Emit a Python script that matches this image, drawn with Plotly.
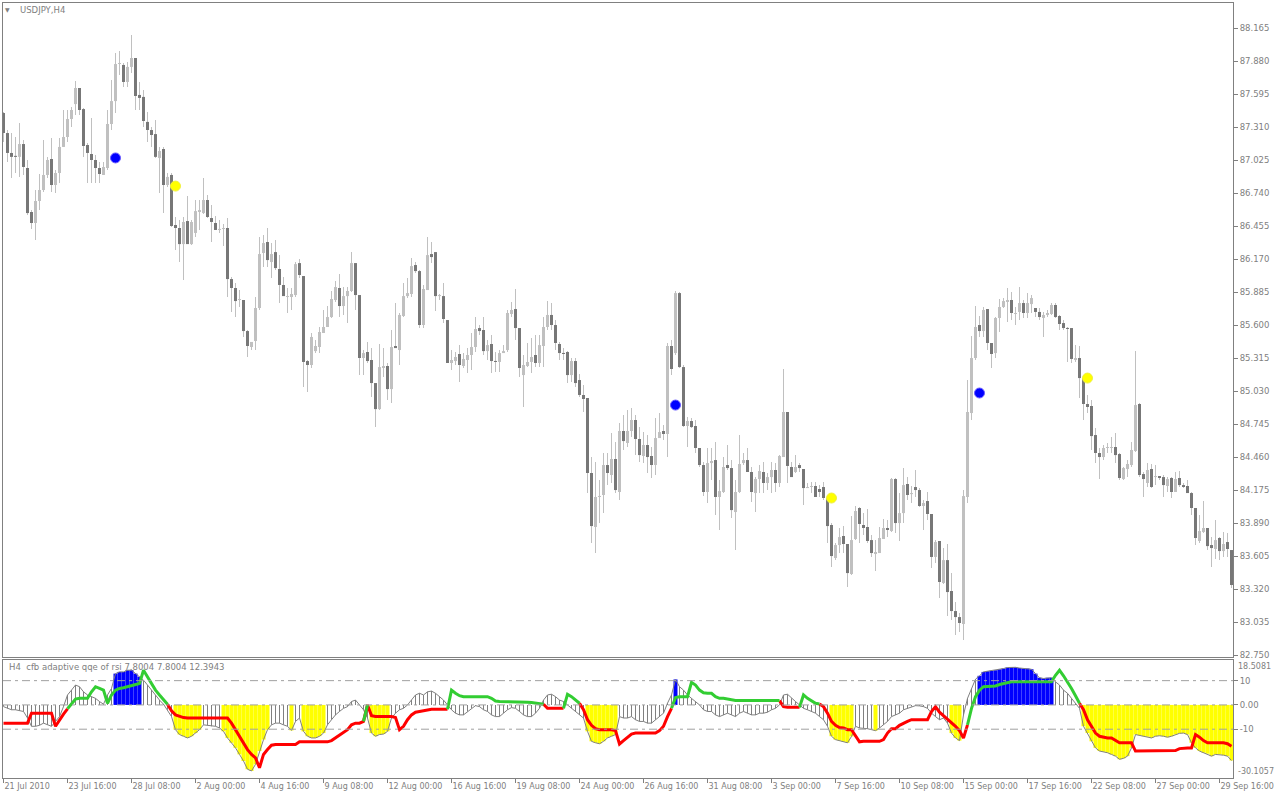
import plotly.graph_objects as go

# ---------------- price data (USDJPY H4) ----------------
OPEN = [
87.431,87.258,87.086,87.060,87.052,87.163,86.956,86.576,86.481,86.671,
86.766,86.896,87.034,86.809,86.913,87.138,87.224,87.379,87.508,87.647,
87.465,87.155,87.077,87.025,86.956,86.896,86.956,87.336,87.534,87.854,
87.846,87.699,87.829,87.906,87.587,87.570,87.354,87.284,87.249,87.043,
87.120,86.809,86.896,86.464,86.438,86.299,86.498,86.299,86.395,86.576,
86.567,86.680,86.524,86.481,86.421,86.429,86.438,85.997,85.920,85.816,
85.816,85.548,85.410,85.462,85.747,86.222,86.317,86.144,86.230,86.084,
85.946,85.842,85.842,85.859,86.135,86.023,85.289,85.255,85.375,85.410,
85.531,85.583,85.669,85.816,85.920,85.764,85.850,85.894,86.135,85.859,
85.315,85.367,85.298,85.099,84.874,85.229,85.246,85.047,85.419,85.384,
85.678,85.850,85.868,86.118,86.066,85.600,85.902,86.213,86.230,85.850,
85.850,85.643,85.272,85.289,85.350,85.246,85.298,85.341,85.410,85.574,
85.557,85.375,85.436,85.289,85.281,85.358,85.384,85.695,85.738,85.574,
85.168,85.246,85.281,85.341,85.272,85.419,85.583,85.687,85.600,85.436,
85.358,85.367,85.168,85.289,85.125,84.996,84.970,84.322,83.856,84.115,
84.132,84.391,84.305,84.443,84.158,84.685,84.581,84.685,84.780,84.616,
84.469,84.564,84.469,84.391,84.624,84.685,84.659,85.419,85.358,85.876,
85.237,84.728,84.771,84.728,84.538,84.391,84.158,84.408,84.434,84.115,
84.158,84.391,84.365,83.985,84.158,84.408,84.434,84.331,84.149,84.270,
84.331,84.236,84.287,84.348,84.236,84.460,84.849,84.374,84.331,84.391,
84.357,84.192,84.201,84.210,84.184,84.201,84.106,83.873,83.588,83.700,
83.778,83.709,83.450,83.752,84.020,83.873,83.856,83.743,83.623,83.631,
83.752,83.847,83.821,84.270,83.890,83.976,84.227,84.140,84.201,84.175,
84.037,84.080,83.968,83.597,83.735,83.372,83.570,83.303,83.130,83.078,
83.018,84.115,84.840,85.315,85.600,85.548,85.738,85.445,85.358,85.661,
85.756,85.799,85.816,85.695,85.713,85.790,85.704,85.781,85.747,85.713,
85.661,85.687,85.695,85.773,85.678,85.617,85.574,85.574,85.298,85.315,
85.142,84.918,84.901,84.650,84.495,84.460,84.538,84.538,84.547,84.486,
84.270,84.357,84.391,84.512,84.918,84.313,84.236,84.357,84.287,84.296,
84.287,84.210,84.279,84.158,84.279,84.218,84.210,84.149,84.020,83.735,
83.813,83.847,83.700,83.666,83.761,83.648,83.726,83.657]

HIGH = [
87.440,87.284,87.258,87.224,87.345,87.198,87.025,86.593,86.766,86.904,
87.198,87.052,87.215,86.939,87.215,87.457,87.457,87.483,87.707,87.647,
87.474,87.172,87.388,87.069,87.008,87.008,87.457,87.716,87.949,87.966,
87.863,87.872,88.105,87.906,87.699,87.630,87.440,87.311,87.371,87.138,
87.138,86.913,86.913,86.533,86.507,86.533,86.714,86.507,86.680,86.680,
86.870,86.723,86.637,86.541,86.507,86.472,86.524,86.015,85.963,85.902,
85.816,85.557,85.454,85.842,86.360,86.377,86.438,86.308,86.334,86.204,
86.015,85.920,85.920,86.144,86.170,86.023,85.298,85.531,85.471,85.583,
85.730,85.764,85.894,85.980,86.041,85.928,85.928,86.230,86.135,85.859,
85.384,85.454,85.401,85.099,85.436,85.401,85.272,85.557,85.790,85.704,
85.963,86.006,86.178,86.144,86.075,85.946,86.360,86.317,86.230,85.868,
85.963,85.643,85.384,85.367,85.427,85.358,85.401,85.531,85.669,85.600,
85.669,85.471,85.514,85.367,85.384,85.427,85.730,85.799,85.911,85.574,
85.341,85.445,85.488,85.514,85.514,85.669,85.807,85.790,85.643,85.454,
85.401,85.375,85.315,85.315,85.177,85.082,84.970,84.460,84.417,84.261,
84.495,84.495,84.667,84.590,84.754,84.823,84.866,84.883,84.823,84.719,
84.676,84.650,84.547,84.797,84.840,84.736,85.445,85.471,85.894,85.885,
85.255,84.806,84.797,84.780,84.538,84.417,84.538,84.538,84.590,84.261,
84.460,84.564,84.434,84.261,84.650,84.495,84.538,84.374,84.287,84.391,
84.417,84.322,84.417,84.408,84.477,85.220,84.849,84.417,84.477,84.408,
84.357,84.236,84.244,84.244,84.218,84.244,84.115,83.890,83.717,83.847,
83.864,83.709,83.951,84.037,84.028,83.976,84.011,83.787,83.743,83.856,
83.925,83.916,84.279,84.279,84.149,84.365,84.287,84.210,84.348,84.192,
84.089,84.158,83.968,83.743,83.735,83.674,83.709,83.458,83.208,83.113,
84.175,85.125,85.505,85.764,85.678,85.756,85.738,85.445,85.669,85.825,
85.833,85.920,85.885,85.756,85.928,85.816,85.876,85.859,85.747,85.747,
85.713,85.730,85.790,85.790,85.687,85.643,85.583,85.574,85.427,85.419,
85.151,84.996,84.952,84.711,84.538,84.564,84.581,84.633,84.667,84.495,
84.374,84.434,84.590,85.375,84.926,84.331,84.408,84.400,84.391,84.296,
84.305,84.287,84.287,84.331,84.339,84.236,84.261,84.158,84.020,83.959,
84.080,83.847,83.769,83.916,83.769,83.813,83.804,83.657]

LOW = [
87.181,87.008,86.870,86.913,86.879,86.896,86.550,86.429,86.334,86.593,
86.749,86.870,86.749,86.740,86.826,87.138,87.181,87.311,87.414,87.414,
87.052,86.826,86.826,86.826,86.826,86.896,86.939,87.284,87.431,87.759,
87.656,87.656,87.776,87.457,87.457,87.311,87.181,87.138,87.043,86.740,
86.567,86.792,86.447,86.248,86.144,85.989,86.299,86.291,86.361,86.421,
86.558,86.524,86.317,86.421,86.395,86.282,85.842,85.713,85.670,85.756,
85.497,85.324,85.384,85.384,85.730,86.101,86.101,86.006,86.075,85.790,
85.850,85.704,85.730,85.842,86.006,85.065,85.022,85.229,85.358,85.358,
85.531,85.583,85.661,85.799,85.669,85.687,85.617,85.885,85.730,85.168,
85.168,85.272,84.978,84.719,84.866,85.151,84.952,84.926,85.401,85.255,
85.669,85.833,85.842,86.049,85.574,85.574,85.902,86.135,85.721,85.816,
85.617,85.272,85.211,85.255,85.108,85.229,85.186,85.211,85.367,85.514,
85.341,85.298,85.186,85.194,85.194,85.358,85.367,85.669,85.471,85.151,
84.892,85.237,85.186,85.237,85.237,85.237,85.557,85.557,85.384,85.298,
85.298,85.099,85.108,85.065,84.978,84.849,84.149,83.717,83.631,83.890,
83.976,84.218,84.235,84.149,84.089,84.521,84.547,84.633,84.477,84.417,
84.408,84.322,84.279,84.305,84.624,84.607,84.460,85.168,85.341,85.229,
84.719,84.547,84.711,84.495,84.374,84.123,84.063,84.261,83.959,83.830,
84.149,84.348,83.933,83.657,84.149,84.391,84.331,84.071,83.985,84.149,
84.149,84.175,84.149,84.158,84.201,84.460,84.236,84.287,84.322,84.331,
84.046,84.192,84.149,84.115,84.115,84.089,83.717,83.510,83.570,83.631,
83.631,83.337,83.441,83.743,83.717,83.787,83.717,83.597,83.476,83.631,
83.752,83.769,83.813,83.804,83.735,83.890,84.089,84.063,84.115,84.028,
83.830,83.916,83.502,83.545,83.242,83.363,83.087,83.052,82.923,82.949,
82.880,84.063,84.780,85.298,85.497,85.497,85.384,85.229,85.315,85.540,
85.747,85.626,85.643,85.600,85.643,85.661,85.661,85.704,85.669,85.643,
85.497,85.669,85.687,85.661,85.557,85.557,85.281,85.272,85.281,84.970,
84.780,84.840,84.521,84.408,84.270,84.434,84.495,84.495,84.408,84.261,
84.261,84.287,84.374,84.503,84.287,84.115,84.201,84.192,84.218,84.261,
84.115,84.158,84.106,84.158,84.201,84.192,84.149,83.959,83.700,83.717,
83.804,83.657,83.510,83.579,83.570,83.597,83.597,83.329]

CLOSE = [
87.258,87.086,87.052,87.052,87.163,86.965,86.567,86.481,86.671,86.766,
86.896,87.025,86.809,86.913,87.138,87.224,87.379,87.457,87.647,87.457,
87.146,87.086,87.025,86.956,86.904,86.965,87.336,87.534,87.854,87.863,
87.699,87.829,87.906,87.578,87.561,87.362,87.284,87.241,87.052,87.103,
86.809,86.879,86.455,86.438,86.299,86.490,86.299,86.490,86.584,86.593,
86.680,86.533,86.490,86.421,86.429,86.438,85.997,85.920,85.807,85.816,
85.548,85.419,85.454,85.747,86.213,86.308,86.161,86.213,86.092,85.946,
85.850,85.850,85.868,86.126,86.032,85.281,85.255,85.497,85.419,85.540,
85.583,85.669,85.825,85.928,85.764,85.850,85.894,86.135,85.859,85.315,
85.358,85.289,85.099,84.874,85.237,85.246,85.047,85.410,85.401,85.687,
85.850,85.876,86.109,86.066,85.600,85.911,86.204,86.187,85.850,85.850,
85.652,85.272,85.298,85.324,85.255,85.307,85.341,85.410,85.566,85.548,
85.375,85.427,85.289,85.281,85.358,85.375,85.704,85.730,85.574,85.229,
85.255,85.281,85.324,85.272,85.427,85.583,85.687,85.600,85.445,85.358,
85.350,85.168,85.289,85.099,84.996,84.961,84.322,83.864,84.115,84.123,
84.391,84.322,84.443,84.175,84.685,84.598,84.685,84.780,84.616,84.477,
84.564,84.460,84.391,84.624,84.676,84.659,85.419,85.220,85.876,85.237,
84.728,84.771,84.719,84.538,84.391,84.158,84.408,84.426,84.115,84.166,
84.374,84.365,84.002,84.158,84.400,84.434,84.331,84.158,84.270,84.339,
84.236,84.287,84.348,84.236,84.469,84.849,84.383,84.287,84.374,84.365,
84.192,84.201,84.210,84.115,84.158,84.106,83.864,83.605,83.700,83.769,
83.709,83.458,83.743,83.994,83.882,83.847,83.735,83.631,83.640,83.761,
83.847,83.830,84.270,83.890,83.976,84.218,84.132,84.140,84.175,84.037,
84.063,83.968,83.597,83.726,83.381,83.570,83.294,83.130,83.078,83.027,
84.123,84.849,85.315,85.583,85.548,85.730,85.445,85.350,85.661,85.756,
85.807,85.816,85.704,85.704,85.790,85.704,85.790,85.833,85.713,85.669,
85.687,85.704,85.773,85.669,85.609,85.574,85.566,85.307,85.315,85.142,
84.918,84.892,84.641,84.495,84.460,84.538,84.547,84.547,84.477,84.279,
84.365,84.400,84.521,84.909,84.305,84.270,84.348,84.201,84.296,84.279,
84.218,84.270,84.158,84.270,84.218,84.201,84.149,84.020,83.761,83.821,
83.847,83.691,83.674,83.743,83.648,83.709,83.666,83.355]

# signal arrows (bar index, price)
SIGNAL_UP_BARS = [28, 168, 244]
SIGNAL_UP_PRICES = [87.043, 84.909, 85.013]
SIGNAL_DN_BARS = [43, 207, 271]
SIGNAL_DN_PRICES = [86.800, 84.106, 85.142]

# ---------------- indicator data (cfb adaptive qqe of rsi) ----------------
QQE_VALUE = [
-0.7,-1.4,-2.0,-2.0,-2.4,-2.7,-5.4,-8.8,-8.8,-8.4,
-7.5,-8.2,-8.8,-6.8,-4.8,-0.7,4.1,6.1,8.2,7.5,
5.4,4.1,3.4,2.7,1.4,0.3,4.1,6.8,12.9,13.6,
13.6,14.3,14.3,12.9,11.6,10.2,8.2,6.1,4.1,2.0,
0.3,-2.0,-4.8,-10.2,-12.2,-12.9,-13.6,-12.9,-11.6,-10.2,
-8.2,-8.4,-8.8,-8.8,-9.5,-10.9,-13.6,-15.6,-17.7,-20.4,
-23.1,-26.5,-27.2,-24.5,-19.0,-14.3,-10.2,-8.2,-7.5,-7.5,
-8.2,-8.8,-10.5,-6.8,-5.4,-10.9,-12.9,-13.6,-13.6,-12.9,
-11.6,-8.2,-6.1,-4.1,-2.7,-1.4,-0.7,1.4,2.0,0.0,
-2.0,-5.4,-11.6,-12.9,-12.2,-12.0,-10.9,-5.4,-3.4,-2.0,
-1.4,0.0,2.0,4.1,4.8,4.1,5.4,5.7,4.8,3.4,
2.0,0.0,-2.0,-3.4,-4.1,-4.1,-2.7,-1.4,-0.3,-0.7,
-2.0,-2.7,-4.1,-4.8,-4.8,-3.4,-2.0,-1.1,-1.4,-2.7,
-4.1,-4.8,-4.8,-3.4,-1.4,2.0,4.1,4.4,3.4,2.0,
1.4,0.0,-1.4,-2.7,-4.1,-5.4,-10.9,-15.0,-15.6,-16.0,
-15.0,-13.6,-12.9,-12.2,-4.8,-5.4,-5.4,-4.8,-6.1,-6.8,
-6.8,-7.5,-7.5,-6.1,-4.8,-3.4,0.7,4.1,10.5,7.5,
6.1,4.1,2.7,1.4,0.0,-2.0,-2.7,-2.7,-4.1,-4.8,
-4.1,-3.4,-4.1,-4.8,-3.4,-2.7,-3.4,-4.1,-4.1,-3.4,
-3.4,-3.0,-2.0,-1.4,0.0,4.1,4.4,2.7,1.4,0.0,
-1.4,-2.0,-2.7,-3.4,-4.8,-6.1,-8.8,-12.9,-14.3,-14.7,
-15.2,-15.6,-13.0,-8.8,-9.5,-9.5,-9.8,-10.2,-10.6,-9.5,
-8.2,-6.8,-4.8,-4.1,-3.4,-2.0,-1.4,-0.7,-0.3,-0.4,
-0.7,-1.4,-3.4,-4.8,-6.1,-5.4,-7.5,-11.6,-13.6,-14.7,
-4.1,2.7,6.8,10.6,12.0,13.6,13.9,14.1,14.3,14.7,
15.0,15.4,15.6,15.5,15.2,15.0,15.0,14.7,12.9,11.2,
10.9,11.2,11.2,9.5,8.2,6.1,4.8,2.7,0.7,-1.4,
-8.8,-11.6,-15.0,-17.7,-19.0,-19.3,-19.7,-20.4,-21.1,-22.4,
-22.0,-21.1,-17.7,-12.2,-12.5,-12.9,-13.1,-13.6,-12.9,-12.7,
-12.9,-13.3,-12.9,-12.2,-11.7,-11.6,-12.2,-15.6,-17.7,-19.0,
-19.7,-20.1,-21.1,-20.4,-20.4,-20.7,-21.1,-22.9]

QQE_TRAIL = [
-7.5,-7.5,-7.5,-7.5,-7.5,-7.5,-7.5,
-3.4,-3.4,-3.4,-3.4,-3.4,-3.4,
-8.8,-6.1,-3.8,-1.6,0.3,2.4,2.7,2.7,2.7,5.4,
7.5,6.8,6.1,0.7,4.1,6.1,6.8,7.1,7.5,7.9,
8.2,8.8,14.3,11.6,8.8,6.1,4.1,2.0,0.3,-2.4,
-4.1,-4.8,-5.2,-5.4,-5.4,-5.4,-5.4,-5.4,-5.4,-5.4,
-5.4,-5.4,-5.4,-5.4,-7.5,-10.2,-12.9,-15.6,-18.4,-20.4,
-21.8,-25.9,-20.4,-18.4,-16.6,-16.3,-16.3,-16.3,-16.3,-16.3,
-16.3,-15.2,-15.2,-15.2,-15.2,-15.2,-15.2,-15.2,-15.2,-14.7,
-13.6,-12.5,-11.6,-10.2,-8.2,-7.5,-7.5,-6.8,0.0,-4.4,
-4.8,-4.8,-4.8,-4.8,-4.8,-5.2,-10.2,-8.8,-6.1,-4.1,
-3.0,-2.7,-2.4,-2.0,-1.8,-1.8,-1.8,-1.8,-1.8,6.1,
4.8,3.8,3.4,3.4,3.4,3.4,3.4,3.4,3.4,2.7,
1.6,1.4,1.4,1.4,1.4,1.4,1.4,1.4,1.1,1.0,
0.8,0.7,0.3,-1.4,-1.4,-1.4,-1.4,-1.4,4.4,3.4,
2.0,0.7,-2.0,-6.1,-8.4,-9.8,-10.2,-10.2,-10.2,-10.2,
-10.6,-16.1,-14.7,-13.3,-12.0,-11.6,-11.6,-11.6,-11.6,-11.6,
-11.6,-10.6,-8.8,-4.8,-1.4,3.0,3.4,3.4,3.4,9.3,
8.2,6.1,5.0,4.8,4.8,3.4,2.7,2.7,2.4,2.0,
1.8,1.8,1.8,1.8,1.8,1.8,1.8,1.8,1.8,1.8,
1.8,1.8,-0.7,-1.0,-1.0,-1.0,-1.0,4.1,2.7,1.6,
0.7,0.4,-0.7,-3.4,-6.8,-8.4,-9.3,-9.5,-10.2,-10.2,
-12.9,-15.2,-15.0,-15.0,-15.0,-15.0,-15.0,-14.3,-11.6,-9.8,
-9.8,-8.4,-7.5,-6.8,-6.1,-6.1,-6.1,-6.1,-6.1,-2.7,
-0.7,-3.0,-4.4,-5.7,-7.5,-8.8,-10.6,-13.6,-8.2,-1.4,
3.4,6.1,7.5,7.6,7.6,7.8,8.4,8.8,9.1,9.5,
9.5,9.5,9.5,9.5,9.5,9.5,9.5,9.5,9.5,9.5,
12.2,14.3,12.0,9.5,6.8,3.8,0.7,-2.0,-6.1,-8.8,
-11.6,-12.9,-13.3,-13.6,-13.6,-14.7,-15.6,-15.6,-15.6,-15.6,
-19.0,-19.0,-19.0,-19.0,-19.0,-19.0,-19.0,-19.0,-19.0,-19.0,
-18.8,-18.0,-17.7,-17.7,-17.7,-12.2,-13.3,-14.7,-15.6,-15.6,
-15.6,-15.6,-15.6,-16.0,-17.0]

# runs (first bar, last bar) of coloured histogram / rising trail
BLUE_RUNS = [(28, 34), (168, 168), (244, 262)]
YELLOW_RUNS = [(43, 49), (55, 66), (72, 72), (75, 80), (92, 96), (146, 153),
               (207, 212), (218, 218), (237, 239), (270, 307)]
GREEN_RUNS = [(17, 41), (91, 91), (112, 135), (141, 144), (168, 194),
              (200, 204), (242, 269)]
LEVELS = [10, 0, -10]
IND_MAX = 18.5081
IND_MIN = -30.1057

# ---------------- axis labels ----------------
TIME_LABEL_BARS = [0, 16, 32, 48, 64, 80, 96, 112, 128, 144, 160, 176, 192,
                   208, 224, 240, 256, 272, 288, 304]
TIME_LABELS = ["21 Jul 2010", "23 Jul 16:00", "28 Jul 08:00", "2 Aug 00:00",
               "4 Aug 16:00", "9 Aug 08:00", "12 Aug 00:00", "16 Aug 16:00",
               "19 Aug 08:00", "24 Aug 00:00", "26 Aug 16:00", "31 Aug 08:00",
               "3 Sep 00:00", "7 Sep 16:00", "10 Sep 08:00", "15 Sep 00:00",
               "17 Sep 16:00", "22 Sep 08:00", "27 Sep 00:00", "29 Sep 16:00"]
PRICE_TICKS = [88.165, 87.880, 87.595, 87.310, 87.025, 86.740, 86.455, 86.170,
               85.885, 85.600, 85.315, 85.030, 84.745, 84.460, 84.175, 83.890,
               83.605, 83.320, 83.035, 82.750]
IND_TICKS = [10, 0, -10]
IND_TICK_TEXT = ["10", "0.00", "-10"]

# ---------------- build figure ----------------
N = len(CLOSE)
idx = list(range(N))
GRAY = "#808080"
BULL = "#c0c0c0"
BEAR = "#777777"
FONT = "DejaVu Sans"
FSIZE = 8.5

def in_runs(i, runs):
    return any(a <= i <= b for a, b in runs)

fig = go.Figure()

# wicks
fig.add_trace(go.Bar(x=idx, y=[h - l for h, l in zip(HIGH, LOW)], base=LOW,
                     width=0.25, marker=dict(color=BULL, line=dict(width=0)),
                     xaxis="x2", yaxis="y", hoverinfo="skip"))
# bodies
body_base = [min(o, c) for o, c in zip(OPEN, CLOSE)]
body_h = [max(abs(c - o), 0.009) for o, c in zip(OPEN, CLOSE)]
body_col = [BULL if c >= o else BEAR for o, c in zip(OPEN, CLOSE)]
fig.add_trace(go.Bar(x=idx, y=body_h, base=body_base, width=0.75,
                     marker=dict(color=body_col, line=dict(width=0)),
                     xaxis="x2", yaxis="y", hoverinfo="skip"))
# signals
fig.add_trace(go.Scatter(x=SIGNAL_UP_BARS, y=SIGNAL_UP_PRICES, mode="markers",
                         marker=dict(symbol="circle", size=10, color="#0000ff",
                                     line=dict(width=1, color="#6a5cff")),
                         xaxis="x2", yaxis="y", hoverinfo="skip"))
fig.add_trace(go.Scatter(x=SIGNAL_DN_BARS, y=SIGNAL_DN_PRICES, mode="markers",
                         marker=dict(symbol="circle", size=10, color="#ffff00",
                                     line=dict(width=1, color="#f0f040")),
                         xaxis="x2", yaxis="y", hoverinfo="skip"))

# indicator histogram
hatch_y = [v if not (in_runs(i, BLUE_RUNS) or in_runs(i, YELLOW_RUNS)) else None
           for i, v in enumerate(QQE_VALUE)]
yellow_y = [v if in_runs(i, YELLOW_RUNS) else None for i, v in enumerate(QQE_VALUE)]
blue_y = [v if in_runs(i, BLUE_RUNS) else None for i, v in enumerate(QQE_VALUE)]
fig.add_trace(go.Bar(x=idx, y=hatch_y, width=0.25,
                     marker=dict(color=GRAY, line=dict(width=0)),
                     xaxis="x", yaxis="y2", hoverinfo="skip"))
fig.add_trace(go.Bar(x=idx, y=yellow_y, width=1.0,
                     marker=dict(color="#ffff00", line=dict(width=0)),
                     xaxis="x", yaxis="y2", hoverinfo="skip"))
fig.add_trace(go.Bar(x=idx, y=blue_y, width=1.0,
                     marker=dict(color="#0000ff", line=dict(width=0)),
                     xaxis="x", yaxis="y2", hoverinfo="skip"))
fig.add_trace(go.Scatter(x=idx, y=QQE_VALUE, mode="lines",
                         line=dict(color=GRAY, width=1),
                         xaxis="x", yaxis="y2", hoverinfo="skip"))

# trail line, coloured by direction (segment i-1 -> i takes colour of bar i)
green = [in_runs(i, GREEN_RUNS) for i in idx]
for col, flag in (("#ff0000", False), ("#32cd32", True)):
    ys = [t if (green[i] == flag or (i + 1 < N and green[i + 1] == flag)) else None
          for i, t in enumerate(QQE_TRAIL)]
    fig.add_trace(go.Scatter(x=idx, y=ys, mode="lines", connectgaps=False,
                             line=dict(color=col, width=3),
                             xaxis="x", yaxis="y2", hoverinfo="skip"))

# level lines
for lv in LEVELS:
    fig.add_shape(type="line", xref="paper", x0=0, x1=1, yref="y2", y0=lv, y1=lv,
                  line=dict(color="#a0a0a0", width=1, dash="8px,4px,3px,4px"),
                  layer="above")

axis_common = dict(showgrid=False, zeroline=False, showline=True,
                   linecolor=GRAY, linewidth=1, mirror=True, automargin=False,
                   tickcolor=GRAY)

fig.update_layout(
    width=1280, height=800,
    margin=dict(l=3, r=47, t=3, b=22, autoexpand=False),
    paper_bgcolor="white", plot_bgcolor="white",
    showlegend=False, barmode="overlay", hovermode=False,
    font=dict(family=FONT, size=FSIZE, color=GRAY),
    xaxis=dict(domain=[0, 1], anchor="y2", range=[-0.125, 307.375],
               tickmode="array", tickvals=TIME_LABEL_BARS, ticktext=TIME_LABELS,
               ticks="outside", ticklen=4, ticklabelposition="outside right",
               tickangle=0, tickfont=dict(family=FONT, size=8, color=GRAY),
               **axis_common),
    xaxis2=dict(domain=[0, 1], anchor="y", matches="x", showticklabels=False,
                ticks="", **axis_common),
    yaxis=dict(domain=[0.1561, 1], anchor="x2", side="right",
               range=[82.733, 88.381], tickmode="array", tickvals=PRICE_TICKS,
               ticktext=[f"{p:.3f}" for p in PRICE_TICKS],
               ticks="outside", ticklen=4,
               tickfont=dict(family=FONT, size=FSIZE, color=GRAY), **axis_common),
    yaxis2=dict(domain=[0, 0.15226], anchor="x", side="right",
                range=[IND_MIN, IND_MAX], tickmode="array", tickvals=IND_TICKS,
                ticktext=IND_TICK_TEXT, ticks="outside", ticklen=4,
                tickfont=dict(family=FONT, size=FSIZE, color=GRAY), **axis_common),
)

ann_font = dict(family=FONT, size=FSIZE, color=GRAY)
fig.add_annotation(xref="paper", yref="paper", x=0.0037, y=0.9910, text="▼",
                   showarrow=False, xanchor="center", yanchor="middle",
                   font=dict(family=FONT, size=6, color=GRAY))
fig.add_annotation(xref="paper", yref="paper", x=0.0122, y=0.9910,
                   text="USDJPY,H4", showarrow=False, xanchor="left",
                   yanchor="middle", font=ann_font)
fig.add_annotation(xref="paper", yref="paper", x=0.0033, y=0.1432,
                   text="H4  cfb adaptive qqe of rsi 7.8004 7.8004 12.3943",
                   showarrow=False, xanchor="left", yanchor="middle", font=ann_font)
fig.add_annotation(xref="paper", yref="y2", x=1.0, y=IND_MAX, xshift=3,
                   text=f"{IND_MAX:.4f}", showarrow=False, xanchor="left",
                   yanchor="top", font=dict(family=FONT, size=8, color=GRAY))
fig.add_annotation(xref="paper", yref="y2", x=1.0, y=IND_MIN, xshift=3,
                   text=f"{IND_MIN:.4f}", showarrow=False, xanchor="left",
                   yanchor="bottom", font=dict(family=FONT, size=8, color=GRAY))

fig.write_html("out.html", config={"displayModeBar": False, "staticPlot": True},
               post_script="document.body.style.margin='0px';"
                           "document.body.style.overflow='hidden';")
